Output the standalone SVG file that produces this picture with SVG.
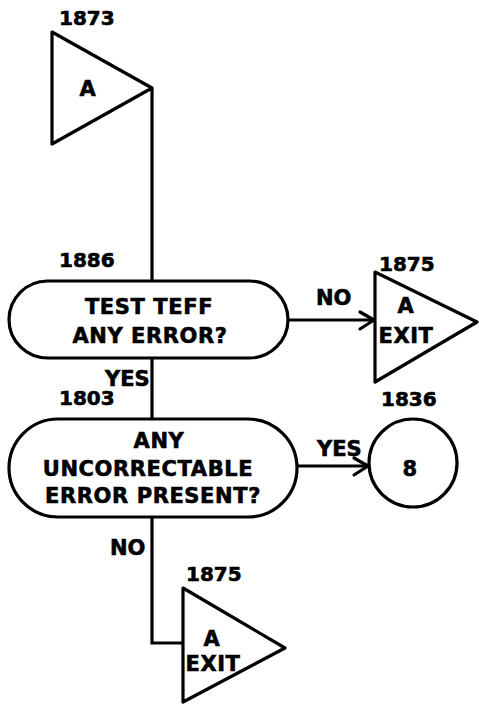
<svg xmlns="http://www.w3.org/2000/svg" width="479" height="713" viewBox="0 0 479 713">
  <style>
    .shape { fill: none; stroke: #000; stroke-width: 3.2; stroke-linejoin: round; }
    .line { fill: none; stroke: #000; stroke-width: 3.2; }
    .head { fill: none; stroke: #000; stroke-width: 3.2; stroke-linecap: round; stroke-linejoin: round; }
    text { font-family: "DejaVu Sans", "Liberation Sans", sans-serif; font-weight: bold; font-size: 21px; fill: #000; stroke: #000; stroke-width: 0.6; }
    .num { font-size: 20px; }
    .mid { text-anchor: middle; letter-spacing: 0.6px; }
  </style>
  <rect width="479" height="713" fill="#fff"/>

  <!-- entry connector -->
  <g id="entry-1873">
    <text class="num" x="59" y="25">1873</text>
    <polygon class="shape" points="52,32 152,88 52,144"/>
    <text class="mid" x="88" y="96">A</text>
  </g>

  <!-- decision: TEST TEFF -->
  <g id="test-teff">
    <text class="num" x="59" y="267">1886</text>
    <rect class="shape" x="9" y="281" width="279" height="77" rx="38.5" ry="38.5"/>
    <text class="mid" x="149" y="314">TEST TEFF</text>
    <text class="mid" x="150" y="343">ANY ERROR?</text>
  </g>

  <!-- exit connector (right) -->
  <g id="exit-1875-a">
    <text class="num" x="379" y="271">1875</text>
    <polygon class="shape" points="375,272 477,322 375,382"/>
    <text class="mid" x="406" y="313">A</text>
    <text class="mid" x="406" y="343">EXIT</text>
  </g>

  <!-- decision: uncorrectable error -->
  <g id="uncorrectable">
    <text class="num" x="59" y="405">1803</text>
    <rect class="shape" x="9" y="419" width="288" height="98" rx="49" ry="49"/>
    <text class="mid" x="159" y="448">ANY</text>
    <text class="mid" x="148" y="476">UNCORRECTABLE</text>
    <text class="mid" x="153" y="503">ERROR PRESENT?</text>
  </g>

  <!-- off-page connector 8 -->
  <g id="connector-1836">
    <text class="num" x="381" y="406">1836</text>
    <circle class="shape" cx="413" cy="463" r="44"/>
    <text class="mid" x="410" y="476">8</text>
  </g>

  <!-- exit connector (bottom) -->
  <g id="exit-1875-b">
    <text class="num" x="186" y="581">1875</text>
    <polygon class="shape" points="183,588 285,648 183,702"/>
    <text class="mid" x="212" y="646">A</text>
    <text class="mid" x="213" y="671">EXIT</text>
  </g>

  <!-- connectors and branch labels -->
  <g id="connectors">
    <path class="line" d="M152,88 V281"/>
    <path class="line" d="M288,320 H374"/>
    <polyline class="head" points="360,312 374,320 360,329"/>
    <text x="316" y="305">NO</text>
    <path class="line" d="M152,358 V419"/>
    <text x="105" y="386">YES</text>
    <path class="line" d="M297,466 H368"/>
    <polyline class="head" points="354,458 368,466 354,475"/>
    <text x="317" y="456">YES</text>
    <path class="line" d="M152,517 V643 H183"/>
    <text x="110" y="555">NO</text>
  </g>
</svg>
